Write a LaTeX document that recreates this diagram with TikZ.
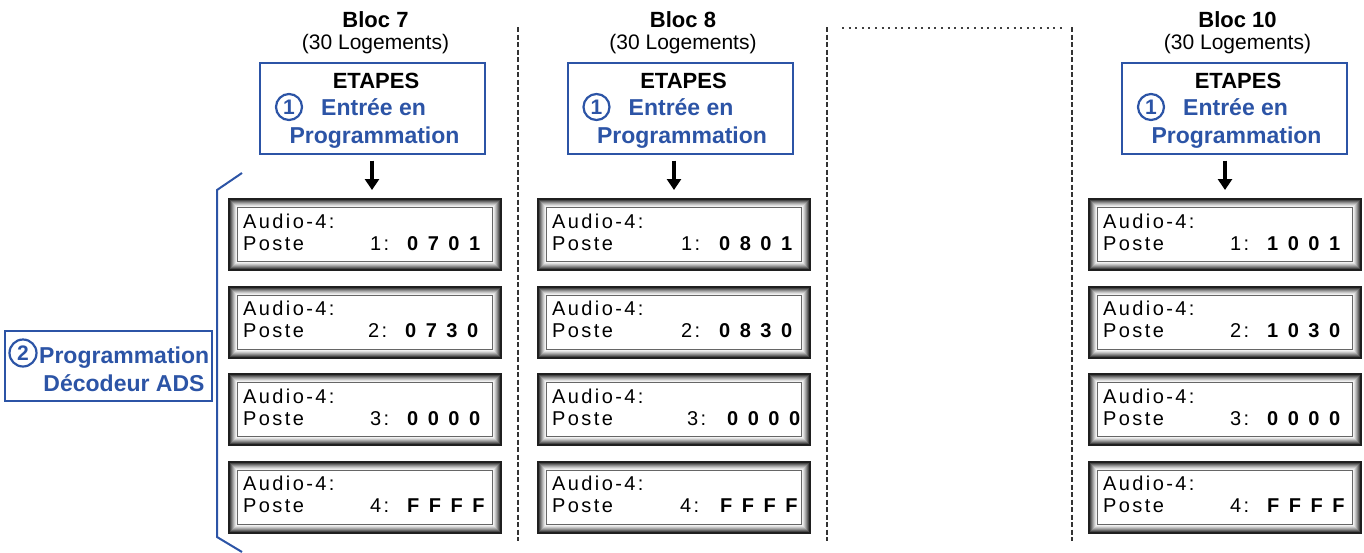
\documentclass[tikz,border=0pt]{standalone}
\usepackage{fontspec}
\setmainfont{Liberation Sans}
\newfontfamily\lcdfont[LetterSpace=12]{Liberation Sans}
\newfontfamily\lcddigfont{Liberation Sans}
\usetikzlibrary{arrows.meta}
\definecolor{adsblue}{RGB}{44,84,166}
\tikzset{
  lcdnode/.style={inner sep=0pt, minimum width=274pt, minimum height=73pt, anchor=north west},
  lcdtxt/.style={inner sep=0pt, anchor=base west, font=\lcdfont\fontsize{20}{24}\selectfont},
  lcddig/.style={inner sep=0pt, anchor=base west, font=\lcddigfont\bfseries\fontsize{20}{24}\selectfont},
  etapesbox/.style={draw=adsblue, line width=2pt, minimum width=225pt, minimum height=91pt, inner sep=0pt},
  titlebold/.style={inner sep=0pt, anchor=base, font=\bfseries\fontsize{22}{26}\selectfont},
  titlenorm/.style={inner sep=0pt, anchor=base, font=\fontsize{21}{25}\selectfont},
  etapestxt/.style={inner sep=0pt, anchor=base, font=\bfseries\fontsize{22}{26}\selectfont},
  bluetxt/.style={inner sep=0pt, text=adsblue, font=\bfseries\fontsize{23}{27}\selectfont},
  numcircle/.style={circle, draw=adsblue, line width=2.2pt, minimum size=26pt, inner sep=0pt, text=adsblue, font=\bfseries\fontsize{21}{24}\selectfont},
  downarrow/.style={line width=3.5pt, -{Triangle[width=14pt,length=11pt]}},
  sepline/.style={line width=1.8pt, black!80, dash pattern=on 5pt off 2.5pt},
  dotline/.style={line width=2pt, black!75, dash pattern=on 2pt off 4.6pt},
}
\newcommand\dgs[4]{#1\hspace{9.5pt}#2\hspace{9.5pt}#3\hspace{9.5pt}#4}
% #1 name, #2 x-left, #3 y-top, #4 number, #5 digits, #6 label offset, #7 digit offset
\newcommand\lcdpanel[7]{%
  \node[lcdnode] (#1) at (#2,#3) {};
  \foreach \i/\c in {0/88,2/72,3/58,4/45,5/33,6/22,7/12,8/5}{%
    \fill[black!\c] ([shift={(\i,\i)}]#1.north west) rectangle ([shift={(-\i,-\i)}]#1.south east);
  }
  \filldraw[fill=white, draw=black!60, line width=1pt] ([shift={(9.5,9.5)}]#1.north west) rectangle ([shift={(-9.5,-9.5)}]#1.south east);
  \node[lcdtxt] (#1-a) at ([shift={(15,30)}]#1.north west) {Audio-4:};
  \node[lcdtxt] (#1-b) at ([shift={(15,52)}]#1.north west) {Poste};
  \node[lcdtxt] (#1-c) at ([shift={(#6,52)}]#1.north west) {#4:};
  \node[lcddig] (#1-d) at ([shift={(#7,52)}]#1.north west) {#5};
}
% #1 name, #2 center x, #3 bloc number
\newcommand\blochead[3]{%
  \node[titlebold] (#1-t) at (#2+3,27) {Bloc #3};
  \node[titlenorm] (#1-l) at (#2+3,49) {(30 Logements)};
  \node[etapesbox] (#1) at (#2,108.5) {};
  \node[etapestxt] (#1-e) at (#2+3.5,88) {ETAPES};
  \node[numcircle] (#1-n) at (#2-83.5,107) {1};
  \node[bluetxt, anchor=base west] (#1-en) at (#2-51.5,115) {Entrée en};
  \node[bluetxt, anchor=base] (#1-p) at (#2+2,143) {Programmation};
}
\begin{document}
\begin{tikzpicture}[x=1pt,y=-1pt]
\useasboundingbox (0,0) rectangle (1364,552);

% separators
\draw[sepline] (518,27) -- (518,541);
\draw[sepline] (827,27) -- (827,541);
\draw[sepline] (1072,27) -- (1072,541);
\draw[dotline] (842,28) -- (1062,28);

% headers
\blochead{e7}{372.5}{7}
\blochead{e8}{680}{8}
\blochead{e10}{1234.5}{10}

% bloc 7 panels
\lcdpanel{l71}{228}{198}{1}{\dgs0701}{142}{179}
\lcdpanel{l72}{228}{285.5}{2}{\dgs0730}{140}{177}
\lcdpanel{l73}{228}{373}{3}{\dgs0000}{142}{179}
\lcdpanel{l74}{228}{460.5}{4}{\dgs FFFF}{142}{179}
% bloc 8 panels
\lcdpanel{l81}{537}{198}{1}{\dgs0801}{144}{182}
\lcdpanel{l82}{537}{285.5}{2}{\dgs0830}{144}{182}
\lcdpanel{l83}{537}{373}{3}{\dgs0000}{150}{190}
\lcdpanel{l84}{537}{460.5}{4}{\dgs FFFF}{143}{183}
% bloc 10 panels
\lcdpanel{l101}{1088}{198}{1}{\dgs1001}{142}{179}
\lcdpanel{l102}{1088}{285.5}{2}{\dgs1030}{142}{179}
\lcdpanel{l103}{1088}{373}{3}{\dgs0000}{142}{179}
\lcdpanel{l104}{1088}{460.5}{4}{\dgs FFFF}{142}{179}

% arrows
\coordinate (a7) at (372,0);
\coordinate (a8) at (674,0);
\coordinate (a10) at (1225,0);
\draw[downarrow, shorten <=5.5pt, shorten >=8pt] (e7.south -| a7) -- (l71.north -| a7);
\draw[downarrow, shorten <=5.5pt, shorten >=8pt] (e8.south -| a8) -- (l81.north -| a8);
\draw[downarrow, shorten <=5.5pt, shorten >=8pt] (e10.south -| a10) -- (l101.north -| a10);

% left bracket and label
\draw[adsblue, line width=2pt] (242,173) -- (217,190) -- (217,537) -- (242,552);
\node[draw=adsblue, line width=2pt, minimum width=207pt, minimum height=70pt, inner sep=0pt] (ads) at (108.5,366) {};
\node[numcircle, minimum size=27pt] (ads-n) at (23,353) {2};
\node[bluetxt, anchor=base west] (ads-p) at (39,363) {Programmation};
\node[bluetxt, anchor=base] (ads-d) at (124,391) {Décodeur ADS};
\end{tikzpicture}
\end{document}
